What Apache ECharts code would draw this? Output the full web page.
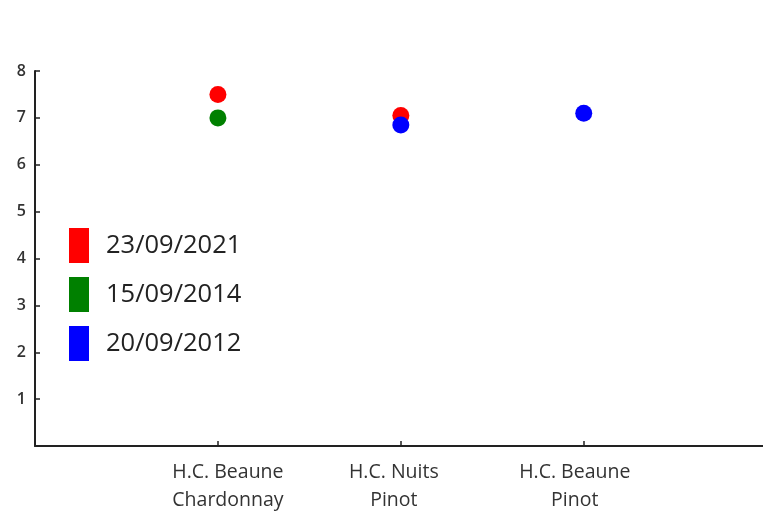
<!DOCTYPE html>
<html>
<head>
<meta charset="utf-8">
<script src="https://cdn.jsdelivr.net/npm/echarts@6/dist/echarts.min.js"></script>
<style>html,body{margin:0;padding:0;background:#fff;}#c{width:763px;height:521px;}</style>
</head>
<body>
<div id="c"></div>
<script>
const categories = ['H.C. Beaune\nChardonnay', 'H.C. Nuits\nPinot', 'H.C. Beaune\nPinot'];
const seriesNames = ['23/09/2021', '15/09/2014', '20/09/2012'];
const values2021 = [7.5, 7.05, null];
const values2014 = [7.0, null, null];
const values2012 = [null, 6.85, 7.1];
const yTicks = [1, 2, 3, 4, 5, 6, 7, 8];

const colors = ['#ff0000', '#008000', '#0000ff'];
const allValues = [values2021, values2014, values2012];
const font = '"Open Sans", "DejaVu Sans", sans-serif';

// horizontal nudge of each category label (style only)
const labelStyle = { fontFamily: font, fontSize: 19.5, lineHeight: 28, color: '#333' };
const rich = {
  l0: Object.assign({}, labelStyle, { padding: [0, 0, 0, 20] }),
  l1: Object.assign({}, labelStyle, { padding: [0, 14, 0, 0] }),
  l2: Object.assign({}, labelStyle, { padding: [0, 18, 0, 0] })
};

const chart = echarts.init(document.getElementById('c'));
chart.setOption({
  animation: false,
  backgroundColor: '#fff',
  grid: { left: 35, right: 0, top: 71, bottom: 75, containLabel: false },
  legend: {
    orient: 'vertical',
    left: 64,
    top: 223,
    icon: 'rect',
    itemWidth: 20,
    itemHeight: 35,
    itemGap: 14,
    data: seriesNames,
    textStyle: { fontFamily: font, fontSize: 25.5, color: '#222', padding: [0, 0, 0, 12] }
  },
  xAxis: {
    type: 'value',
    min: 0,
    max: 3.98,
    interval: 1,
    splitLine: { show: false },
    axisLine: { show: true, lineStyle: { color: '#222', width: 2 } },
    axisTick: { show: true, inside: true, length: 5, lineStyle: { color: '#222', width: 1.5 } },
    axisLabel: Object.assign({
      margin: 12,
      showMaxLabel: false,
      rich: rich,
      formatter: function (v) {
        if (!(v >= 1 && v <= categories.length)) return '';
        const key = 'l' + (v - 1);
        return categories[v - 1].split('\n').map(s => '{' + key + '|' + s + '}').join('\n');
      }
    }, labelStyle)
  },
  yAxis: {
    type: 'value',
    min: 0,
    max: 8,
    interval: 1,
    splitLine: { show: false },
    axisLine: { show: true, lineStyle: { color: '#222', width: 2 } },
    axisTick: { show: true, inside: true, length: 5, lineStyle: { color: '#222', width: 1.5 } },
    axisLabel: {
      margin: 9,
      fontFamily: font,
      fontSize: 16,
      fontWeight: 600,
      color: '#333',
      formatter: function (v) { return yTicks.indexOf(v) >= 0 ? String(v) : ''; }
    }
  },
  series: seriesNames.map((name, k) => ({
    name: name,
    type: 'scatter',
    symbol: 'circle',
    symbolSize: 17,
    itemStyle: { color: colors[k], opacity: 1 },
    z: 2 + k,
    data: allValues[k].map((v, i) => v == null ? null : [i + 1, v]).filter(d => d)
  }))
});
</script>
</body>
</html>
